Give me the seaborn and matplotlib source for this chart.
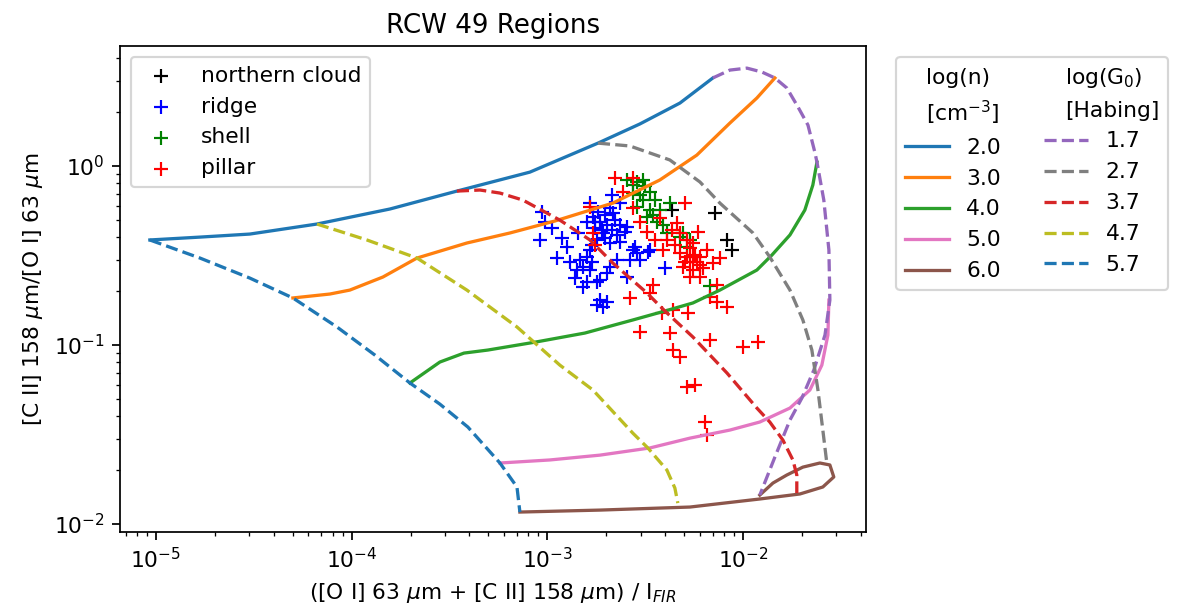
import numpy as np
import matplotlib
matplotlib.use('Agg')
import matplotlib.pyplot as plt
from matplotlib.lines import Line2D
import seaborn as sns

DPI = 157

# PDR model grid, log10 values
# x = ([O I] 63 + [C II] 158) / I_FIR, y = [C II] 158 / [O I] 63
n_labels = ['2.0', '3.0', '4.0', '5.0', '6.0']
g0_labels = ['1.7', '2.7', '3.7', '4.7', '5.7']

# constant density lines, log(n) = 2 ... 6
dens2_lx = [-5.031, -4.775, -4.520, -4.177, -3.804, -3.462, -3.089, -2.741, -2.527, -2.322, -2.154]
dens2_ly = [-0.413, -0.397, -0.380, -0.324, -0.240, -0.140, -0.034, 0.128, 0.235, 0.352, 0.492]
dens3_lx = [-4.300, -4.111, -4.009, -3.840, -3.666, -3.411, -3.191, -2.961, -2.665, -2.425, -2.236,
            -2.067, -1.929, -1.837]
dens3_ly = [-0.737, -0.715, -0.693, -0.620, -0.514, -0.430, -0.374, -0.307, -0.207, -0.078, 0.061,
            0.240, 0.380, 0.492]
dens4_lx = [-3.702, -3.549, -3.426, -3.304, -3.058, -2.808, -2.563, -2.399, -2.256, -2.118, -1.929,
            -1.852, -1.760, -1.684, -1.643, -1.622]
dens4_ly = [-1.212, -1.095, -1.045, -1.028, -0.983, -0.933, -0.860, -0.810, -0.765, -0.693, -0.581,
            -0.497, -0.385, -0.246, -0.106, 0.022]
dens5_lx = [-3.242, -2.987, -2.731, -2.476, -2.271, -2.067, -1.914, -1.760, -1.658, -1.597, -1.566, -1.561]
dens5_ly = [-1.659, -1.642, -1.615, -1.575, -1.520, -1.475, -1.430, -1.352, -1.251, -1.112, -0.944, -0.749]
dens6_lx = [-3.140, -2.731, -2.271, -1.914, -1.709, -1.592, -1.536, -1.556, -1.607, -1.694, -1.776,
            -1.847, -1.914]
dens6_ly = [-1.933, -1.922, -1.905, -1.860, -1.832, -1.793, -1.737, -1.670, -1.659, -1.682, -1.726,
            -1.771, -1.838]

# constant G0 lines, log(G0) = 1.7 ... 5.7
rad17_lx = [-2.154, -2.067, -1.980, -1.903, -1.837, -1.776, -1.719, -1.668, -1.633, -1.622, -1.587,
            -1.561, -1.556, -1.581, -1.638, -1.699, -1.760, -1.837, -1.914]
rad17_ly = [0.492, 0.536, 0.547, 0.525, 0.492, 0.436, 0.330, 0.229, 0.078, 0.022, -0.190,
            -0.469, -0.749, -0.944, -1.140, -1.296, -1.419, -1.626, -1.838]
rad27_lx = [-2.741, -2.578, -2.374, -2.220, -2.118, -1.949, -1.863, -1.760, -1.694, -1.648, -1.617,
            -1.592, -1.571]
rad27_ly = [0.128, 0.112, 0.034, -0.089, -0.207, -0.374, -0.508, -0.693, -0.860, -1.028, -1.251,
            -1.475, -1.665]
rad37_lx = [-3.462, -3.344, -3.242, -3.125, -2.936, -2.782, -2.665, -2.491, -2.399, -2.256, -2.082,
            -1.929, -1.863, -1.796, -1.745, -1.725, -1.725]
rad37_ly = [-0.140, -0.134, -0.151, -0.190, -0.302, -0.413, -0.542, -0.709, -0.810, -0.955, -1.156,
            -1.352, -1.430, -1.531, -1.642, -1.726, -1.827]
rad47_lx = [-4.177, -3.922, -3.666, -3.411, -3.155, -2.936, -2.767, -2.563, -2.486, -2.389, -2.348, -2.333]
rad47_ly = [-0.324, -0.413, -0.514, -0.693, -0.899, -1.112, -1.251, -1.492, -1.575, -1.698, -1.799, -1.883]
rad57_lx = [-5.031, -4.775, -4.520, -4.300, -4.075, -3.881, -3.702, -3.549, -3.406, -3.242, -3.155, -3.140]
rad57_ly = [-0.413, -0.514, -0.626, -0.737, -0.899, -1.056, -1.212, -1.330, -1.458, -1.659, -1.793, -1.933]

# observed regions (log10)
cloud_lx = [-2.363, -2.144, -2.082, -2.057]
cloud_ly = [-0.246, -0.263, -0.413, -0.469]

ridge_lx = [-3.028, -2.977, -3.038, -2.925, -2.900, -2.951, -2.844, -2.782, -2.767, -2.798, -2.757,
            -2.721, -2.696, -2.670, -2.665, -2.670, -2.629, -2.644, -2.629, -2.680, -2.716, -2.833,
            -2.798, -2.818, -2.849, -2.782, -2.798, -2.818, -2.747, -2.731, -2.696, -2.680, -2.644,
            -2.593, -2.578, -2.563, -2.542, -2.527, -2.476, -2.399, -2.731, -2.696, -2.716, -2.747,
            -2.593, -2.604, -2.552, -2.486, -2.741, -2.706, -2.731, -2.655, -2.772, -2.747, -2.859,
            -2.772, -3.012, -2.706, -2.757, -2.680, -2.629, -2.782, -2.885]
ridge_ly = [-0.257, -0.346, -0.413, -0.402, -0.453, -0.514, -0.374, -0.207, -0.285, -0.313, -0.313,
            -0.358, -0.330, -0.358, -0.263, -0.162, -0.207, -0.385, -0.425, -0.430, -0.374, -0.525,
            -0.508, -0.564, -0.581, -0.581, -0.648, -0.676, -0.648, -0.637, -0.598, -0.564, -0.525,
            -0.620, -0.525, -0.469, -0.486, -0.525, -0.469, -0.570, -0.749, -0.760, -0.788, -0.777,
            -0.341, -0.369, -0.453, -0.480, -0.257, -0.274, -0.313, -0.302, -0.441, -0.413, -0.626,
            -0.536, -0.313, -0.402, -0.346, -0.235, -0.330, -0.469, -0.536]

shell_lx = [-2.593, -2.563, -2.542, -2.512, -2.501, -2.476, -2.563, -2.512, -2.542, -2.476, -2.491,
            -2.460, -2.425, -2.440, -2.409, -2.374, -2.389, -2.322, -2.307, -2.271, -2.287, -2.169,
            -2.450, -2.527]
shell_ly = [-0.078, -0.106, -0.089, -0.078, -0.112, -0.145, -0.151, -0.190, -0.229, -0.246, -0.285,
            -0.274, -0.246, -0.313, -0.330, -0.207, -0.374, -0.397, -0.374, -0.413, -0.453, -0.670,
            -0.190, -0.162]

pillar_lx = [-2.655, -2.614, -2.563, -2.527, -2.491, -2.782, -2.767, -2.757, -2.297, -2.338, -2.322,
             -2.287, -2.256, -2.389, -2.322, -2.287, -2.256, -2.220, -2.307, -2.256, -2.205, -2.154,
             -2.118, -2.271, -2.220, -2.460, -2.476, -2.578, -2.169, -2.133, -2.082, -2.415, -2.358,
             -2.282, -2.527, -2.374, -2.358, -2.322, -2.169, -2.000, -1.924, -2.287, -2.246, -2.195,
             -2.184, -2.425, -2.363, -2.271, -2.236, -2.184, -2.348, -2.297, -2.409, -2.450, -2.563,
             -2.231, -2.133, -2.220, -2.271, -2.246]
pillar_ly = [-0.067, -0.145, -0.235, -0.313, -0.369, -0.229, -0.374, -0.441, -0.207, -0.318, -0.374,
             -0.413, -0.430, -0.413, -0.486, -0.508, -0.508, -0.508, -0.564, -0.581, -0.570, -0.542,
             -0.514, -0.620, -0.620, -0.665, -0.709, -0.737, -0.732, -0.760, -0.788, -0.821, -0.804,
             -0.821, -0.927, -0.933, -1.028, -1.067, -0.972, -1.011, -0.983, -1.235, -1.223, -1.430,
             -1.503, -0.291, -0.358, -0.458, -0.536, -0.469, -0.441, -0.536, -0.469, -0.413, -0.067,
             -0.369, -0.665, -0.553, -0.536, -0.497]

regions = [('northern cloud', 'k', cloud_lx, cloud_ly),
           ('ridge', 'b', ridge_lx, ridge_ly),
           ('shell', 'g', shell_lx, shell_ly),
           ('pillar', 'r', pillar_lx, pillar_ly)]
dens_lines = [(dens2_lx, dens2_ly, 'tab:blue'), (dens3_lx, dens3_ly, 'tab:orange'),
              (dens4_lx, dens4_ly, 'tab:green'), (dens5_lx, dens5_ly, 'tab:pink'),
              (dens6_lx, dens6_ly, 'tab:brown')]
rad_lines = [(rad17_lx, rad17_ly, 'tab:purple'), (rad27_lx, rad27_ly, 'tab:gray'),
             (rad37_lx, rad37_ly, 'tab:red'), (rad47_lx, rad47_ly, 'tab:olive'),
             (rad57_lx, rad57_ly, 'tab:blue')]

fig, ax = plt.subplots(figsize=(1183 / DPI, 606 / DPI), dpi=DPI)
fig.subplots_adjust(left=0.1014, right=0.732, bottom=0.122, top=0.924)
ax.set_xscale('log')
ax.set_yscale('log')

# data points
point_handles = []
for label, color, lx, ly in regions:
    sns.scatterplot(x=10 ** np.array(lx), y=10 ** np.array(ly), marker='+', color=color,
                    s=36, linewidth=1.0, ax=ax, legend=False)
    coll = ax.collections[-1]
    coll.set_label(label)
    point_handles.append(coll)

# model grid
n_handles = []
for lx, ly, color in dens_lines:
    sns.lineplot(x=10 ** np.array(lx), y=10 ** np.array(ly), sort=False, estimator=None,
                 color=color, linewidth=1.5, ax=ax)
    n_handles.append(ax.lines[-1])
g_handles = []
for lx, ly, color in rad_lines:
    sns.lineplot(x=10 ** np.array(lx), y=10 ** np.array(ly), sort=False, estimator=None,
                 color=color, linewidth=1.5, linestyle='--', ax=ax)
    g_handles.append(ax.lines[-1])

ax.set_xlim(6.55e-6, 0.0425)
ax.set_ylim(0.00902, 4.68)
ax.set_title('RCW 49 Regions')
ax.set_xlabel(r'([O I] 63 $\mu$m + [C II] 158 $\mu$m) / I$_{FIR}$')
ax.set_ylabel(r'[C II] 158 $\mu$m/[O I] 63 $\mu$m')

leg1 = ax.legend(handles=point_handles, loc='upper left')
ax.add_artist(leg1)

# model legend: two header rows per column, then the lines
blank = Line2D([], [], color='none')
handles2 = [blank, blank] + n_handles + [blank, blank] + g_handles
labels2 = ['log(n)', '[cm$^{-3}$]'] + n_labels + ['log(G$_0$)', '[Habing]'] + g0_labels
leg2 = ax.legend(handles2, labels2, ncol=2, loc='upper left', bbox_to_anchor=(1.026, 1.0))

# shrink the empty handle box of header rows so the header text starts near the line samples
for column in leg2._legend_handle_box.get_children():
    for row in column.get_children()[:2]:
        row.get_children()[0].width = 1.5

fig.savefig('out.png', dpi=DPI)
plt.close()
